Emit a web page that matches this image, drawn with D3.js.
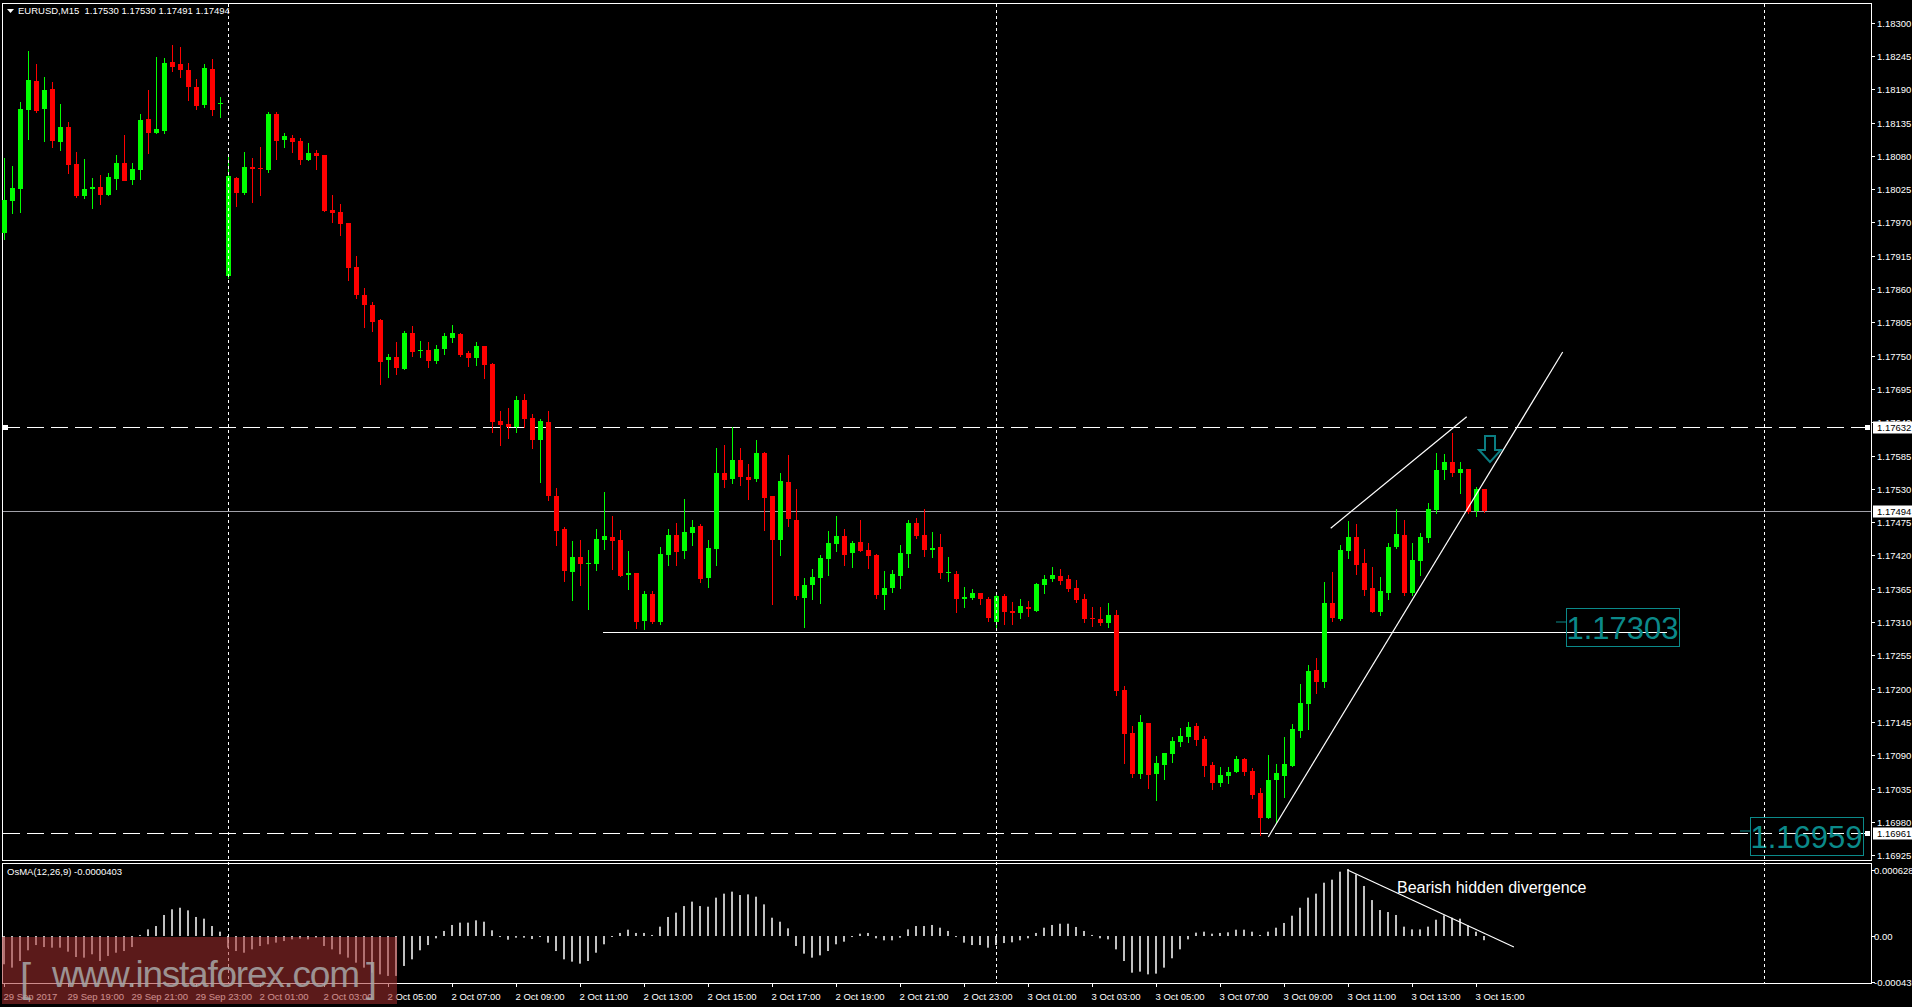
<!DOCTYPE html>
<html>
<head>
<meta charset="utf-8">
<script src="https://cdn.jsdelivr.net/npm/d3@7"></script>
<style>
  body { margin: 0; background: #000; }
  text { font-family: "Liberation Sans", Arial, sans-serif; }
</style>
</head>
<body>
<div id="chart"></div>
<script>
// EURUSD M15 candles: [open, high, low, close]
var candles = [
  [1.17953,1.18077,1.17943,1.18007],[1.18006,1.18063,1.17986,1.18027],[1.18025,1.18169,1.17988,1.18157],
  [1.18155,1.18253,1.18108,1.18205],[1.18204,1.18232,1.18153,1.18154],[1.18157,1.18210,1.18104,1.18189],
  [1.18191,1.18202,1.18094,1.18105],[1.18104,1.18166,1.18089,1.18128],[1.18128,1.18136,1.18051,1.18066],
  [1.18067,1.18087,1.18012,1.18014],[1.18014,1.18075,1.18011,1.18025],[1.18026,1.18044,1.17994,1.18029],
  [1.18029,1.18048,1.18000,1.18016],[1.18016,1.18052,1.18016,1.18045],[1.18042,1.18081,1.18025,1.18069],
  [1.18069,1.18114,1.18040,1.18040],[1.18040,1.18069,1.18033,1.18058],[1.18057,1.18150,1.18041,1.18140],
  [1.18141,1.18189,1.18085,1.18118],[1.18117,1.18243,1.18117,1.18124],[1.18121,1.18242,1.18118,1.18234],
  [1.18235,1.18263,1.18220,1.18226],[1.18231,1.18260,1.18211,1.18221],[1.18222,1.18234,1.18173,1.18194],
  [1.18194,1.18207,1.18158,1.18163],[1.18164,1.18232,1.18161,1.18225],[1.18224,1.18240,1.18147,1.18157],
  [1.18165,1.18177,1.18144,1.18167],[1.17882,1.18081,1.17879,1.18047],[1.18044,1.18045,1.17997,1.18019],
  [1.18019,1.18087,1.18017,1.18062],[1.18062,1.18077,1.18004,1.18059],[1.18060,1.18095,1.18015,1.18058],
  [1.18057,1.18153,1.18054,1.18150],[1.18150,1.18153,1.18075,1.18105],[1.18107,1.18118,1.18094,1.18113],
  [1.18110,1.18114,1.18087,1.18104],[1.18105,1.18110,1.18067,1.18073],[1.18073,1.18102,1.18073,1.18085],
  [1.18085,1.18089,1.18058,1.18080],[1.18081,1.18081,1.17989,1.17989],[1.17991,1.18015,1.17971,1.17986],
  [1.17988,1.18000,1.17949,1.17968],[1.17969,1.17969,1.17875,1.17894],[1.17897,1.17914,1.17845,1.17851],
  [1.17850,1.17862,1.17798,1.17833],[1.17834,1.17839,1.17791,1.17806],[1.17809,1.17810,1.17703,1.17740],
  [1.17743,1.17753,1.17714,1.17748],[1.17748,1.17773,1.17719,1.17730],[1.17728,1.17791,1.17728,1.17788],
  [1.17788,1.17799,1.17750,1.17757],[1.17758,1.17774,1.17748,1.17759],[1.17759,1.17773,1.17731,1.17741],
  [1.17741,1.17768,1.17738,1.17761],[1.17761,1.17788,1.17753,1.17783],[1.17779,1.17801,1.17773,1.17788],
  [1.17786,1.17788,1.17750,1.17751],[1.17754,1.17758,1.17733,1.17746],[1.17746,1.17773,1.17735,1.17766],
  [1.17766,1.17766,1.17713,1.17735],[1.17736,1.17738,1.17624,1.17640],[1.17642,1.17659,1.17603,1.17636],
  [1.17637,1.17664,1.17614,1.17632],[1.17632,1.17683,1.17624,1.17677],[1.17677,1.17687,1.17632,1.17645],
  [1.17647,1.17654,1.17598,1.17611],[1.17611,1.17645,1.17541,1.17642],[1.17640,1.17659,1.17512,1.17518],
  [1.17518,1.17531,1.17437,1.17460],[1.17464,1.17467,1.17378,1.17394],[1.17394,1.17444,1.17346,1.17418],
  [1.17418,1.17446,1.17371,1.17406],[1.17406,1.17429,1.17332,1.17408],[1.17406,1.17464,1.17396,1.17447],
  [1.17446,1.17525,1.17431,1.17452],[1.17450,1.17485,1.17398,1.17444],[1.17446,1.17462,1.17386,1.17386],
  [1.17388,1.17427,1.17365,1.17391],[1.17391,1.17391,1.17300,1.17310],[1.17312,1.17361,1.17299,1.17356],
  [1.17356,1.17361,1.17309,1.17309],[1.17309,1.17434,1.17307,1.17422],[1.17421,1.17464,1.17404,1.17454],
  [1.17454,1.17474,1.17404,1.17426],[1.17427,1.17513,1.17416,1.17459],[1.17457,1.17479,1.17437,1.17467],
  [1.17469,1.17472,1.17376,1.17381],[1.17383,1.17446,1.17368,1.17432],[1.17431,1.17598,1.17404,1.17556],
  [1.17556,1.17603,1.17533,1.17545],[1.17546,1.17632,1.17540,1.17578],[1.17578,1.17598,1.17536,1.17550],
  [1.17550,1.17571,1.17513,1.17545],[1.17546,1.17611,1.17543,1.17589],[1.17589,1.17591,1.17462,1.17515],
  [1.17518,1.17518,1.17340,1.17446],[1.17446,1.17556,1.17421,1.17543],[1.17541,1.17586,1.17469,1.17480],
  [1.17478,1.17530,1.17348,1.17352],[1.17350,1.17383,1.17302,1.17371],[1.17371,1.17397,1.17348,1.17384],
  [1.17383,1.17421,1.17341,1.17416],[1.17414,1.17460,1.17388,1.17440],[1.17439,1.17485,1.17427,1.17452],
  [1.17452,1.17464,1.17404,1.17421],[1.17424,1.17444,1.17401,1.17440],[1.17442,1.17478,1.17427,1.17427],
  [1.17429,1.17440,1.17399,1.17419],[1.17421,1.17422,1.17350,1.17355],[1.17355,1.17394,1.17331,1.17366],
  [1.17366,1.17396,1.17359,1.17389],[1.17386,1.17437,1.17366,1.17424],[1.17422,1.17478,1.17401,1.17473],
  [1.17473,1.17482,1.17449,1.17452],[1.17454,1.17497,1.17419,1.17430],[1.17430,1.17459,1.17417,1.17433],
  [1.17434,1.17455,1.17383,1.17391],[1.17391,1.17417,1.17378,1.17392],[1.17389,1.17394,1.17326,1.17348],
  [1.17348,1.17368,1.17335,1.17351],[1.17350,1.17364,1.17348,1.17358],[1.17358,1.17358,1.17340,1.17348],
  [1.17348,1.17351,1.17312,1.17317],[1.17310,1.17355,1.17298,1.17353],[1.17353,1.17356,1.17307,1.17326],
  [1.17328,1.17343,1.17307,1.17325],[1.17325,1.17348,1.17317,1.17336],[1.17335,1.17345,1.17320,1.17331],
  [1.17328,1.17374,1.17328,1.17373],[1.17371,1.17388,1.17358,1.17381],[1.17381,1.17401,1.17378,1.17388],
  [1.17386,1.17397,1.17373,1.17378],[1.17381,1.17388,1.17361,1.17364],[1.17366,1.17379,1.17343,1.17346],
  [1.17348,1.17356,1.17310,1.17315],[1.17317,1.17335,1.17303,1.17315],[1.17315,1.17335,1.17305,1.17308],
  [1.17308,1.17341,1.17302,1.17321],[1.17321,1.17330,1.17189,1.17196],[1.17198,1.17204,1.17077,1.17125],
  [1.17127,1.17138,1.17054,1.17059],[1.17059,1.17156,1.17052,1.17145],[1.17143,1.17143,1.17036,1.17057],
  [1.17059,1.17089,1.17016,1.17077],[1.17074,1.17094,1.17051,1.17094],[1.17092,1.17120,1.17079,1.17113],
  [1.17112,1.17135,1.17105,1.17122],[1.17120,1.17145,1.17112,1.17136],[1.17138,1.17143,1.17107,1.17115],
  [1.17117,1.17122,1.17056,1.17072],[1.17074,1.17079,1.17034,1.17044],[1.17044,1.17070,1.17039,1.17057],
  [1.17055,1.17070,1.17044,1.17062],[1.17062,1.17089,1.17062,1.17084],[1.17084,1.17085,1.17057,1.17062],
  [1.17064,1.17069,1.17019,1.17024],[1.17027,1.17036,1.16958,1.16986],[1.16986,1.17090,1.16986,1.17049],
  [1.17049,1.17075,1.16980,1.17060],[1.17055,1.17120,1.17021,1.17075],[1.17072,1.17141,1.17072,1.17133],
  [1.17130,1.17208,1.17120,1.17176],[1.17174,1.17239,1.17133,1.17229],[1.17231,1.17250,1.17193,1.17211],
  [1.17211,1.17376,1.17203,1.17341],[1.17341,1.17393,1.17312,1.17317],[1.17315,1.17437,1.17313,1.17429],
  [1.17427,1.17477,1.17416,1.17450],[1.17450,1.17472,1.17389,1.17404],[1.17407,1.17431,1.17355,1.17363],
  [1.17366,1.17401,1.17326,1.17326],[1.17326,1.17384,1.17321,1.17361],[1.17358,1.17440,1.17348,1.17434],
  [1.17434,1.17497,1.17432,1.17455],[1.17454,1.17478,1.17355,1.17358],[1.17358,1.17440,1.17355,1.17412],
  [1.17411,1.17457,1.17388,1.17450],[1.17449,1.17507,1.17442,1.17497],[1.17495,1.17589,1.17490,1.17561],
  [1.17561,1.17587,1.17546,1.17574],[1.17574,1.17622,1.17551,1.17556],[1.17556,1.17574,1.17523,1.17563],
  [1.17563,1.17563,1.17490,1.17492],[1.17493,1.17533,1.17485,1.17530],[1.17530,1.17530,1.17491,1.17494]
];

// OsMA(12,26,9) histogram, in millionths
var osmaMicro = [
  -269,-301,-238,-136,-86,-105,-111,-111,-149,-200,
  -206,-174,-238,-190,-159,-143,-105,10,63,95,
  200,254,269,244,181,165,95,41,-111,-143,
  -159,-127,-95,-79,-63,-48,-32,-25,-32,-16,
  -95,-127,-174,-206,-254,-301,-349,-365,-380,-380,
  -285,-222,-136,-86,-22,48,105,127,127,149,
  136,54,-10,-35,-16,-16,-29,-10,-63,-143,
  -222,-244,-263,-238,-159,-79,-3,29,60,29,
  29,10,89,181,222,285,327,285,279,365,
  403,422,390,396,
  374,301,174,136,73,-95,-168,-206,-184,-143,
  -79,-54,-10,22,29,-22,-41,-41,-16,63,
  95,95,105,79,48,-10,-63,-86,-86,-111,
  -86,-67,-60,-41,-22,29,79,105,117,117,
  86,48,10,-22,-32,-127,-238,-349,-339,-365,
  -358,-301,-212,-127,-32,32,41,22,29,35,
  60,60,41,10,41,79,124,193,269,365,
  403,507,536,612,637,586,476,342,247,228,
  200,89,63,63,89,155,197,174,165,101,
  41,-40
];

var priceTicks = d3.range(0, 26).map(function (k) { return +(1.18300 - k * 0.00055).toFixed(5); });
var osmaTicks = [0.000628, 0, -0.000435];
var timeLabels = ["29 Sep 2017", "29 Sep 19:00", "29 Sep 21:00", "29 Sep 23:00",
  "2 Oct 01:00", "2 Oct 03:00", "2 Oct 05:00", "2 Oct 07:00", "2 Oct 09:00", "2 Oct 11:00",
  "2 Oct 13:00", "2 Oct 15:00", "2 Oct 17:00", "2 Oct 19:00", "2 Oct 21:00", "2 Oct 23:00",
  "3 Oct 01:00", "3 Oct 03:00", "3 Oct 05:00", "3 Oct 07:00", "3 Oct 09:00", "3 Oct 11:00",
  "3 Oct 13:00", "3 Oct 15:00"];
var separators = [28, 124, 220];          // bar index of the dotted day lines
var levels = { high: 1.17632, bid: 1.17494, support: 1.17294, low: 1.16961 };
var wedgeUpper = [[165.9, 1.17465], [182.9, 1.17649]];
var wedgeLower = [[158.1, 1.16955], [194.9, 1.17756]];
var divergence = [[168.0, 0.000628], [188.8, -0.000105]];

var width = 1912, height = 1007;
var L = 2, R = 1871, T = 3, B = 860, OT = 863, OB = 983;

var svg = d3.select("#chart").append("svg")
  .attr("width", width).attr("height", height)
  .style("background", "#000");

var x = d3.scaleLinear().domain([0, 1]).range([3.5, 11.5]);
var y = d3.scaleLinear().domain([1.18300, 1.16925]).range([22.7, 855.1]);
var yo = d3.scaleLinear().domain([0, 0.000628]).range([936, 870]);

// frames
svg.append("rect").attr("x", L + 0.5).attr("y", T + 0.5).attr("width", R - L).attr("height", B - T)
  .attr("fill", "none").attr("stroke", "#fff");
svg.append("rect").attr("x", L + 0.5).attr("y", OT + 0.5).attr("width", R - L).attr("height", OB - OT)
  .attr("fill", "none").attr("stroke", "#fff");

var main = svg.append("g");
var osc = svg.append("g");

// day separators
separators.forEach(function (i) {
  svg.append("line").attr("x1", Math.round(x(i)) + 0.5).attr("x2", Math.round(x(i)) + 0.5)
    .attr("y1", T + 1).attr("y2", OB)
    .attr("stroke", "#fff").attr("stroke-dasharray", "3,3");
});

// horizontal levels
function hline(p, dash, color) {
  var yy = Math.round(y(p)) + 0.5;
  main.append("line").attr("x1", L + 1).attr("x2", R).attr("y1", yy).attr("y2", yy)
    .attr("stroke", color).attr("stroke-dasharray", dash);
  return yy;
}
var yHigh = hline(levels.high, "17,7", "#fff");
var yLow = hline(levels.low, "17,7", "#fff");
hline(levels.bid, null, "#a0a0a8");
[yHigh, yLow].forEach(function (yy) {
  main.append("rect").attr("x", R - 6).attr("y", yy - 2.5).attr("width", 5).attr("height", 5).attr("fill", "#fff");
});
main.append("rect").attr("x", L + 1).attr("y", yHigh - 2.5).attr("width", 5).attr("height", 5).attr("fill", "#fff");
var ySup = Math.round(y(levels.support)) + 0.5;
main.append("line").attr("x1", 603).attr("x2", 1667).attr("y1", ySup).attr("y2", ySup).attr("stroke", "#fff");

// candles
var cg = main.selectAll("g.c").data(candles).enter().append("g");
cg.append("line")
  .attr("x1", function (d, i) { return Math.round(x(i)) + 0.5; })
  .attr("x2", function (d, i) { return Math.round(x(i)) + 0.5; })
  .attr("y1", function (d) { return Math.round(y(d[1])); })
  .attr("y2", function (d) { return Math.round(y(d[2])) + 1; })
  .attr("stroke", function (d) { return d[3] >= d[0] ? "#00ff00" : "#ff0000"; });
cg.append("rect")
  .attr("x", function (d, i) { return Math.round(x(i)) - 2; })
  .attr("width", 5)
  .attr("y", function (d) { return Math.round(y(Math.max(d[0], d[3]))); })
  .attr("height", function (d) { return Math.max(1, Math.round(Math.abs(y(d[0]) - y(d[3])))); })
  .attr("fill", function (d) { return d[3] >= d[0] ? "#00ff00" : "#ff0000"; });

// wedge lines
[wedgeUpper, wedgeLower].forEach(function (seg) {
  main.append("line")
    .attr("x1", x(seg[0][0])).attr("y1", y(seg[0][1]))
    .attr("x2", x(seg[1][0])).attr("y2", y(seg[1][1]))
    .attr("stroke", "#fff").attr("stroke-width", 1.2);
});

// down arrow
var ax = 1490, ay = 436;
main.append("path")
  .attr("d", "M" + (ax - 5) + "," + ay + " h10 v14 h6 l-11,12 l-11,-12 h6 z")
  .attr("fill", "none").attr("stroke", "#0b7d82").attr("stroke-width", 2);

// price boxes
function priceBox(x0, y0, w, h, label) {
  main.append("line").attr("x1", x0 - 10).attr("x2", x0).attr("y1", y0 + h / 2 - 5).attr("y2", y0 + h / 2 - 5)
    .attr("stroke", "#0b8a8a");
  main.append("rect").attr("x", x0 + 0.5).attr("y", y0 + 0.5).attr("width", w).attr("height", h)
    .attr("fill", "none").attr("stroke", "#0b8a8a");
  main.append("text").attr("x", x0 + w / 2).attr("y", y0 + h - 7).attr("text-anchor", "middle")
    .attr("font-size", 31).attr("fill", "#0b8a8a").text(label);
}
priceBox(1566, 608, 113, 38, "1.17303");
priceBox(1750, 817, 113, 38, "1.16959");

// OsMA histogram
osc.selectAll("rect.h").data(osmaMicro).enter().append("rect")
  .attr("x", function (d, i) { return Math.round(x(i)) - 1; })
  .attr("width", 2)
  .attr("y", function (d) { return Math.min(yo(d * 1e-6), yo(0)); })
  .attr("height", function (d) { return Math.max(1, Math.abs(yo(d * 1e-6) - yo(0))); })
  .attr("fill", "#c0c0c0");
osc.append("line")
  .attr("x1", x(divergence[0][0])).attr("y1", yo(divergence[0][1]))
  .attr("x2", x(divergence[1][0])).attr("y2", yo(divergence[1][1]))
  .attr("stroke", "#fff").attr("stroke-width", 1.2);
osc.append("text").attr("x", 1397).attr("y", 893).attr("font-size", 16).attr("fill", "#fff")
  .text("Bearish hidden divergence");

// titles
svg.append("path").attr("d", "M7,9 h7 l-3.5,4 z").attr("fill", "#fff");
svg.append("text").attr("x", 18).attr("y", 14).attr("font-size", 9.5).attr("fill", "#fff")
  .attr("xml:space", "preserve").text("EURUSD,M15  1.17530 1.17530 1.17491 1.17494");
svg.append("text").attr("x", 7).attr("y", 875).attr("font-size", 9.5).attr("fill", "#fff")
  .text("OsMA(12,26,9) -0.0000403");

// price axis
var pa = svg.append("g");
priceTicks.forEach(function (p) {
  var yy = Math.round(y(p)) + 0.5;
  pa.append("line").attr("x1", R).attr("x2", R + 4).attr("y1", yy).attr("y2", yy).attr("stroke", "#fff");
  pa.append("text").attr("x", R + 6).attr("y", yy + 3.5).attr("font-size", 9.5).attr("fill", "#fff").text(p.toFixed(5));
});
[levels.high, levels.bid, levels.low].forEach(function (p) {
  var yy = Math.round(y(p)) + 0.5;
  pa.append("rect").attr("x", R + 2).attr("y", yy - 6).attr("width", width - R - 2).attr("height", 12).attr("fill", "#fff");
  pa.append("text").attr("x", R + 6).attr("y", yy + 3.5).attr("font-size", 9.5).attr("fill", "#000").text(p.toFixed(5));
});
osmaTicks.forEach(function (v) {
  var yy = Math.round(yo(v)) + 0.5;
  pa.append("line").attr("x1", R).attr("x2", R + 4).attr("y1", yy).attr("y2", yy).attr("stroke", "#fff");
  pa.append("text").attr("x", R + 3).attr("y", yy + 3.5).attr("font-size", 9.5).attr("fill", "#fff")
    .text(v === 0 ? "0.00" : v.toFixed(v > 0 ? 6 : 6));
});

// time axis
timeLabels.forEach(function (t, k) {
  var xx = Math.round(x(k * 8)) + 0.5;
  svg.append("line").attr("x1", xx).attr("x2", xx).attr("y1", OB).attr("y2", OB + 4).attr("stroke", "#fff");
  svg.append("text").attr("x", xx - 1).attr("y", 1000).attr("font-size", 9.5).attr("fill", "#fff").text(t);
});

// watermark
svg.append("rect").attr("x", L).attr("y", 937).attr("width", 395).attr("height", 67)
  .attr("fill", "rgb(165,48,48)").attr("opacity", 0.55);
svg.append("text").attr("x", 20).attr("y", 992).attr("font-size", 40).attr("font-weight", 300)
  .attr("fill", "#a8a8a8").attr("opacity", 0.85).text("[");
svg.append("text").attr("x", 52).attr("y", 987).attr("font-size", 37)
  .attr("fill", "#a8a8a8").attr("opacity", 0.85).attr("textLength", 308).text("www.instaforex.com");
svg.append("text").attr("x", 366).attr("y", 992).attr("font-size", 40)
  .attr("fill", "#a8a8a8").attr("opacity", 0.85).text("]");
</script>
</body>
</html>
